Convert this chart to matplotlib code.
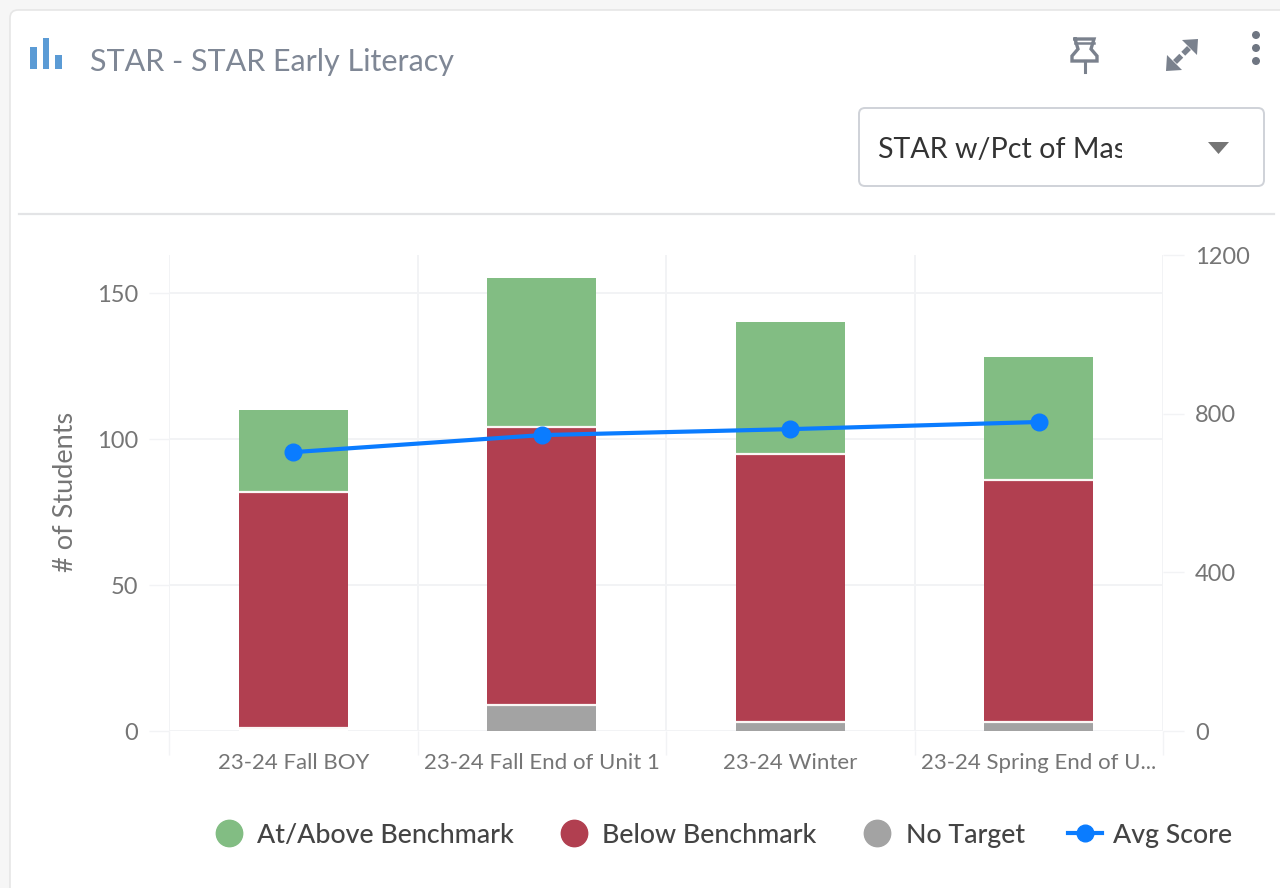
import matplotlib
matplotlib.use("Agg")
import matplotlib.pyplot as plt
import numpy as np
from matplotlib.lines import Line2D
from matplotlib.patches import FancyBboxPatch, Polygon, Rectangle, Circle

# ---- data ----
categories = ["23-24 Fall BOY", "23-24 Fall End of Unit 1", "23-24 Winter", "23-24 Spring End of U..."]
no_target = [1, 9, 3, 3]
below_benchmark = [81, 95, 92, 83]
at_above_benchmark = [28, 51, 45, 42]
avg_score = [703, 746, 761, 779]
left_ticks = [0, 50, 100, 150]
right_ticks = [0, 400, 800, 1200]
series_names = ["At/Above Benchmark", "Below Benchmark", "No Target", "Avg Score"]

GREEN, RED, GREY, BLUE = "#82BD83", "#B13F50", "#A3A3A3", "#0A7CFF"
GRID = "#F2F3F5"
TICK = "#757575"
FONT = "Lato"
W, H = 1280, 888

plt.rcParams["font.family"] = [FONT, "DejaVu Sans"]
fig = plt.figure(figsize=(W / 100, H / 100), dpi=100, facecolor="#F6F6F6")

# ---- page chrome, in pixel coordinates ----
bg = fig.add_axes([0, 0, 1, 1], zorder=0)
bg.set_xlim(0, W); bg.set_ylim(H, 0); bg.axis("off")
bg.add_patch(FancyBboxPatch((10, 10), 1400, 1000, boxstyle="round,pad=0,rounding_size=8",
                            fc="white", ec="#E6E6E6", lw=1.2))
bg.plot([19, 1274], [214, 214], color="#E3E4E6", lw=1.6)

for x0, x1, y0 in [(30, 36.5, 47), (43, 49, 38), (55, 61.5, 55)]:
    bg.add_patch(Rectangle((x0, y0), x1 - x0, 69 - y0, fc="#5B9BD5", ec="none"))
bg.text(90, 62, "STAR - STAR Early Literacy", fontsize=22, color="#7F8795", va="center", ha="left")

# pin icon
ICON = "#7A818D"
bg.plot([1075, 1094, 1091, 1097, 1097, 1072, 1072, 1078, 1075],
        [39, 39, 49, 56, 61, 61, 56, 49, 39], color=ICON, lw=2.4, solid_joinstyle="miter")
bg.plot([1075, 1094], [43, 43], color=ICON, lw=1.8)
bg.plot([1084.5, 1084.5], [61, 72], color=ICON, lw=2.2)
# expand icon
bg.add_patch(Polygon([[1198, 39], [1182, 40], [1197, 55]], fc=ICON, ec="none"))
bg.add_patch(Polygon([[1166, 71], [1182, 70], [1167, 55]], fc=ICON, ec="none"))
bg.plot([1175, 1189], [62, 48], color=ICON, lw=4, ls=(0, (1.6, 0.5)))
# kebab icon
for cy in (35, 48, 61):
    bg.add_patch(Circle((1256, cy), 4, fc="#6F7682", ec="none"))

# dropdown
bg.add_patch(FancyBboxPatch((859, 108), 405, 78, boxstyle="round,pad=0,rounding_size=6",
                            fc="white", ec="#CFD2D8", lw=1.4))
dd = bg.text(878, 150, "STAR w/Pct of Master", fontsize=20.6, color="#333333", va="center", ha="left")
dd.set_clip_on(True)
dd.set_clip_path(Rectangle((870, 110), 252, 70, transform=bg.transData))
bg.add_patch(Polygon([[1208, 142], [1229, 142], [1218.5, 154]], fc="#757575", ec="none"))

# ---- chart ----
ax = fig.add_axes([169 / W, 1 - 731 / H, 994 / W, 476 / H], zorder=1)
ax.patch.set_alpha(0)
x = np.arange(len(categories))
nt, bb, ab = map(np.array, (no_target, below_benchmark, at_above_benchmark))
bar_w = 0.437

# The single No Target student in the first bar is hidden behind its separator in the reference
nt_colors = ["white", GREY, GREY, GREY]
ax.bar(x, nt, bar_w, color=nt_colors, zorder=2)
ax.bar(x, bb, bar_w, bottom=nt, color=RED, zorder=2)
ax.bar(x, ab, bar_w, bottom=nt + bb, color=GREEN, zorder=2)
ax.hlines(nt, x - bar_w / 2, x + bar_w / 2, color="#FBF7F5", lw=1.6, zorder=3)
ax.hlines(nt + bb, x - bar_w / 2, x + bar_w / 2, color="#FBF7F5", lw=1.6, zorder=3)

ax.set_xlim(-0.5, len(categories) - 0.5)
ax.set_ylim(0, 476 / 2.92)
ax.set_yticks(left_ticks)
ax.set_xticks(x)
ax.set_xticklabels(categories)
ax.set_xticks(np.arange(len(categories) + 1) - 0.5, minor=True)
ax.grid(True, axis="y", which="major", color=GRID, lw=1.4, zorder=0)
ax.grid(True, axis="x", which="minor", color=GRID, lw=1.4, zorder=0)
ax.grid(False, axis="x", which="major")
ax.tick_params(axis="y", length=14.4, width=1, color=GRID, labelsize=17, labelcolor=TICK, pad=8)
ax.tick_params(axis="x", which="major", length=0, labelsize=16, labelcolor=TICK, pad=15.5)
ax.tick_params(axis="x", which="minor", length=17, width=1, color=GRID)
for s in ax.spines.values():
    s.set_visible(False)
ax.set_ylabel("# of Students", fontsize=19.5, color=TICK)
ax.yaxis.set_label_coords(78 / W, 1 - 492 / H, transform=fig.transFigure)

ax2 = ax.twinx()
ax2.patch.set_alpha(0)
ax2.set_ylim(0, 1200)
ax2.set_yticks(right_ticks)
ax2.tick_params(axis="y", length=15, width=1, color=GRID, labelsize=17, labelcolor=TICK, pad=8)
for s in ax2.spines.values():
    s.set_visible(False)
ax2.plot(x, avg_score, color=BLUE, lw=3, marker="o", ms=12, mec=BLUE, zorder=5)

# ---- legend ----
def dot(color):
    return Line2D([], [], ls="none", marker="o", ms=19, color=color)

handles = [dot(GREEN), dot(RED), dot(GREY),
           Line2D([], [], color=BLUE, lw=3, marker="o", ms=12)]
fig.legend(handles, series_names, loc="center", bbox_to_anchor=(722 / W, 1 - 835 / H), ncol=4,
           frameon=False, prop={"family": FONT, "size": 19.3, "weight": "medium"},
           labelcolor="#444444", handlelength=1.27, handletextpad=0.42,
           columnspacing=1.62, borderpad=0, borderaxespad=0)

fig.savefig("out.png", dpi=100, facecolor=fig.get_facecolor())
